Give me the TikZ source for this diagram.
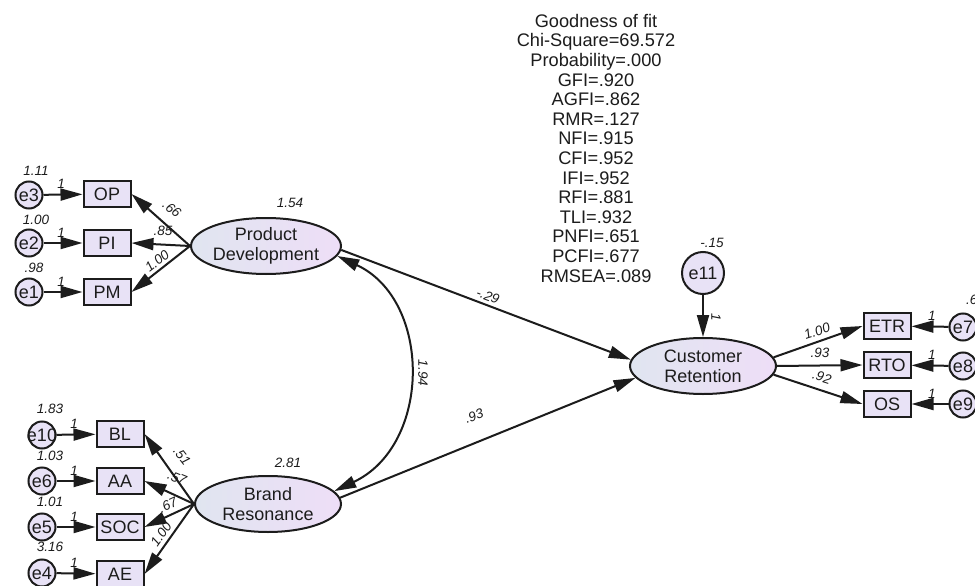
\documentclass[tikz,border=0pt]{standalone}
\usepackage{fontspec}
\setmainfont{Liberation Sans}
\usetikzlibrary{arrows.meta,shapes.geometric}
\definecolor{boxfill}{RGB}{232,226,246}
\definecolor{latleft}{RGB}{224,229,240}
\definecolor{latright}{RGB}{238,222,247}
\definecolor{ink}{RGB}{28,28,28}

\begin{document}
\begin{tikzpicture}[x=1pt, y=-1pt,
    ind/.style={draw=ink, line width=2pt, fill=boxfill, text=ink, minimum width=47pt, minimum height=26pt, inner sep=0pt, font=\fontsize{18}{18}\selectfont},
    err/.style={circle, draw=ink, line width=2pt, fill=boxfill, text=ink, minimum size=27pt, inner sep=0pt, font=\fontsize{18}{18}\selectfont},
    lat/.style={ellipse, draw=ink, line width=2pt, left color=latleft, right color=latright, text=ink, minimum width=146pt, minimum height=56pt, inner sep=0pt, align=center, font=\fontsize{18}{20}\selectfont},
    est/.style={text=ink, inner sep=0pt, font=\fontsize{13.5}{13.5}\selectfont\itshape},
    arr/.style={draw=ink, line width=2pt, -{Triangle[length=22pt,width=12pt]}},
    cov/.style={draw=ink, line width=2pt, {Triangle[length=22pt,width=12pt]}-{Triangle[length=22pt,width=12pt]}},
]
    \useasboundingbox (0,0) rectangle (975,586);
    \fill[white] (0,0) rectangle (975,586);

    % 拟合指标
    \node[anchor=north, inner sep=0pt, align=center, text=ink, font=\fontsize{18.2}{19.6}\selectfont] (gof) at (596,14)
        {Goodness of fit\\Chi-Square=69.572\\Probability=.000\\GFI=.920\\AGFI=.862\\RMR=.127\\NFI=.915\\CFI=.952\\IFI=.952\\RFI=.881\\TLI=.932\\PNFI=.651\\PCFI=.677\\RMSEA=.089};

    % 潜变量
    \node[lat] (pd) at (266,246) {Product\\Development};
        \node[est] (vpd) at (290,203) {1.54};
    \node[lat] (br) at (268,504) {Brand\\Resonance};
        \node[est] (vbr) at (288,463) {2.81};
    \node[lat] (cr) at (703,366) {Customer\\Retention};

    % Product Development 的指标
    \node[ind] (op) at (107,194) {OP};
    \node[ind] (pi) at (107,243) {PI};
    \node[ind] (pm) at (107,292) {PM};
    \node[err] (e3) at (29,195) {e3};
    \node[err] (e2) at (29,243) {e2};
    \node[err] (e1) at (29,292) {e1};
        \node[est] (v3) at (36,171) {1.11};
        \node[est] (v2) at (36,220) {1.00};
        \node[est] (v1) at (34,268) {.98};
    \draw[arr] (e3) -- node[est, above=5pt, pos=0.45] (w3) {1} (op);
    \draw[arr] (e2) -- node[est, above=5pt, pos=0.45] (w2) {1} (pi);
    \draw[arr] (e1) -- node[est, above=5pt, pos=0.45] (w1) {1} (pm);
    \draw[arr] (pd.west) -- (op.east);
    \draw[arr] (pd.west) -- (pi.east);
    \draw[arr] (pd.west) -- (pm.east);
        \node[est, rotate=-38] (lop) at (172,209) {.66};
        \node[est] (lpi) at (163,231) {.85};
        \node[est, rotate=38] (lpm) at (157,261) {1.00};

    % Brand Resonance 的指标
    \node[ind] (bl) at (120,434) {BL};
    \node[ind] (aa) at (120,481) {AA};
    \node[ind] (soc) at (120,527) {SOC};
    \node[ind] (ae) at (120,574) {AE};
    \node[err] (e10) at (42,435) {\makebox[0pt]{e10}};
    \node[err] (e6) at (42,481) {e6};
    \node[err] (e5) at (42,527) {e5};
    \node[err] (e4) at (42,573) {e4};
        \node[est] (v10) at (50,409) {1.83};
        \node[est] (v6) at (50,456) {1.03};
        \node[est] (v5) at (50,502) {1.01};
        \node[est] (v4) at (50,547) {3.16};
    \draw[arr] (e10) -- node[est, above=5pt, pos=0.45] (w10) {1} (bl);
    \draw[arr] (e6) -- node[est, above=5pt, pos=0.45] (w6) {1} (aa);
    \draw[arr] (e5) -- node[est, above=5pt, pos=0.45] (w5) {1} (soc);
    \draw[arr] (e4) -- node[est, above=5pt, pos=0.45] (w4) {1} (ae);
    \draw[arr] (br.west) -- (bl.east);
    \draw[arr] (br.west) -- (aa.east);
    \draw[arr] (br.west) -- (soc.east);
    \draw[arr] (br.west) -- (ae.east);
        \node[est, rotate=-52] (lbl) at (182,456) {.51};
        \node[est, rotate=-22] (laa) at (177,478) {.57};
        \node[est, rotate=25] (lsoc) at (168,505) {.67};
        \node[est, rotate=55] (lae) at (161,534) {1.00};

    % 协方差
    \draw[cov] (pd.-8) .. controls (432,300) and (432,445) .. (br.11);
        \node[est, rotate=-90] (c1) at (423,373) {1.94};

    % 结构路径
    \draw[arr] (pd.-3) -- (cr.175);
        \node[est, rotate=-21] (b1) at (488,296) {-.29};
    \draw[arr] (br.5) -- (cr.190);
        \node[est, rotate=20] (b2) at (474,416) {.93};

    % Customer Retention 的残差与指标
    \node[err, minimum size=42pt] (e11) at (703,273) {e11};
        \node[est] (v11) at (712,243) {-.15};
    \draw[arr] (e11) -- (cr);
        \node[est, rotate=-90] (w11) at (716,317) {1};
    \node[ind] (etr) at (887,326) {ETR};
    \node[ind] (rto) at (887,365) {RTO};
    \node[ind] (os) at (887,404) {OS};
    \node[err] (e7) at (963,327) {e7};
    \node[err] (e8) at (963,366) {e8};
    \node[err] (e9) at (963,404) {e9};
        \node[est, anchor=west] (v7) at (966,300) {.6};
    \draw[arr] (e7) -- node[est, above=5pt, pos=0.45] (w7) {1} (etr);
    \draw[arr] (e8) -- node[est, above=5pt, pos=0.45] (w8) {1} (rto);
    \draw[arr] (e9) -- node[est, above=5pt, pos=0.45] (w9) {1} (os);
    \draw[arr] (cr.7) -- (etr.west);
    \draw[arr] (cr.0) -- (rto.west);
    \draw[arr] (cr.-7) -- (os.west);
        \node[est, rotate=18] (letr) at (817,331) {1.00};
        \node[est] (lrto) at (820,353) {.93};
        \node[est, rotate=-18] (los) at (822,377) {.92};
\end{tikzpicture}
\end{document}
